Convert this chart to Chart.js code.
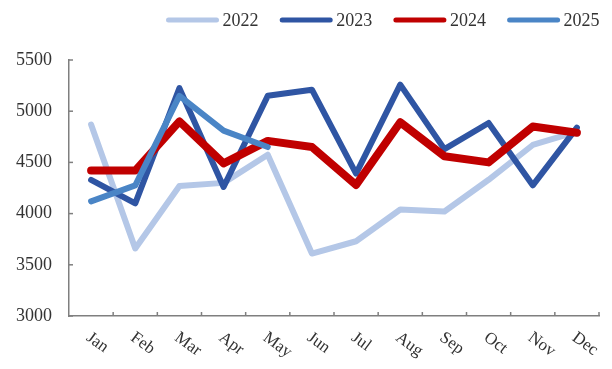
<!DOCTYPE html>
<html>
<head>
<meta charset="utf-8">
<script src="https://cdn.jsdelivr.net/npm/chart.js@4/dist/chart.umd.min.js"></script>
<style>
html,body{margin:0;padding:0;background:#fff;}
#wrap{width:612px;height:369px;}
</style>
</head>
<body>
<div id="wrap"><canvas id="c" width="612" height="369"></canvas></div>
<script>
const months = ['Jan','Feb','Mar','Apr','May','Jun','Jul','Aug','Sep','Oct','Nov','Dec'];
const seriesNames = ['2022','2023','2024','2025'];
const v2022 = [4870, 3660, 4270, 4300, 4575, 3610, 3730, 4040, 4020, 4330, 4670, 4800];
const v2023 = [4330, 4100, 5225, 4260, 5150, 5210, 4390, 5260, 4630, 4885, 4276, 4840];
const v2024 = [4420, 4420, 4900, 4490, 4710, 4650, 4280, 4892, 4560, 4500, 4850, 4790];
const v2025 = [4120, 4275, 5150, 4810, 4650];
const yTicks = [3000, 3500, 4000, 4500, 5000, 5500];

const colors = ['#b4c7e7', '#2f55a3', '#c00000', '#4a85c6'];
const widths = [6, 6, 8, 6];
const FONT = '"Liberation Serif", "Times New Roman", serif';
const TXT = '#333333';
const AXIS = '#7f7f7f';

const decor = {
  id: 'decor',
  afterDraw(chart) {
    const ctx = chart.ctx;
    const xs = chart.scales.x, ys = chart.scales.y;
    const area = chart.chartArea;
    ctx.save();
    ctx.strokeStyle = AXIS;
    ctx.lineWidth = 1.5;
    // inside y ticks
    yTicks.forEach(v => {
      const y = ys.getPixelForValue(v);
      ctx.beginPath(); ctx.moveTo(area.left, y); ctx.lineTo(area.left + 4, y); ctx.stroke();
    });
    // inside x ticks at category boundaries
    const step = (area.right - area.left) / months.length;
    for (let i = 1; i <= months.length; i++) {
      const x = area.left + i * step;
      ctx.beginPath(); ctx.moveTo(x, area.bottom); ctx.lineTo(x, area.bottom - 4); ctx.stroke();
    }
    // rotated x labels
    ctx.font = '17px ' + FONT;
    ctx.fillStyle = TXT;
    ctx.textAlign = 'left';
    ctx.textBaseline = 'top';
    months.forEach((m, i) => {
      const x = xs.getPixelForValue(i) + 2;
      ctx.save();
      ctx.translate(x, area.bottom + 13);
      ctx.rotate(36 * Math.PI / 180);
      ctx.fillText(m, 0, 0);
      ctx.restore();
    });
    // legend
    ctx.font = '18px ' + FONT;
    ctx.textBaseline = 'middle';
    const startX = 168.5, pitch = 113.7, lineLen = 48, ly = 20;
    chart.data.datasets.forEach((ds, i) => {
      const x0 = startX + i * pitch;
      ctx.strokeStyle = ds.borderColor;
      ctx.lineWidth = 5;
      ctx.lineCap = 'round';
      ctx.beginPath(); ctx.moveTo(x0, ly); ctx.lineTo(x0 + lineLen, ly); ctx.stroke();
      ctx.fillStyle = TXT;
      ctx.fillText(ds.label, x0 + lineLen + 6, ly + 1);
    });
    ctx.restore();
  }
};

const seriesValues = [v2022, v2023, v2024, v2025];
new Chart(document.getElementById('c'), {
  type: 'line',
  data: {
    labels: months,
    datasets: seriesNames.map((name, i) => ({
      label: name,
      data: seriesValues[i],
      borderColor: colors[i],
      backgroundColor: colors[i],
      borderWidth: widths[i],
      borderJoinStyle: 'round',
      borderCapStyle: 'round',
      pointRadius: 0,
      pointHoverRadius: 0,
      tension: 0,
      fill: false,
      order: seriesNames.length - i
    }))
  },
  options: {
    responsive: false,
    animation: false,
    devicePixelRatio: 1,
    layout: { padding: { top: 60, left: 0, right: 13, bottom: 0 } },
    plugins: { legend: { display: false }, tooltip: { enabled: false } },
    scales: {
      x: {
        type: 'category',
        offset: true,
        grid: { display: false, drawTicks: false },
        border: { display: true, color: AXIS, width: 1.5 },
        ticks: { display: false },
        afterFit(scale) { scale.height = 53; }
      },
      y: {
        min: 3000,
        max: 5500,
        grid: { display: false, drawTicks: false },
        border: { display: true, color: AXIS, width: 1.5 },
        afterBuildTicks(scale) { scale.ticks = yTicks.map(v => ({ value: v })); },
        ticks: {
          padding: 17,
          color: TXT,
          font: { family: FONT, size: 18 },
          callback: (v) => String(v)
        },
        afterFit(scale) { scale.width = 69; }
      }
    }
  },
  plugins: [decor]
});
</script>
</body>
</html>
